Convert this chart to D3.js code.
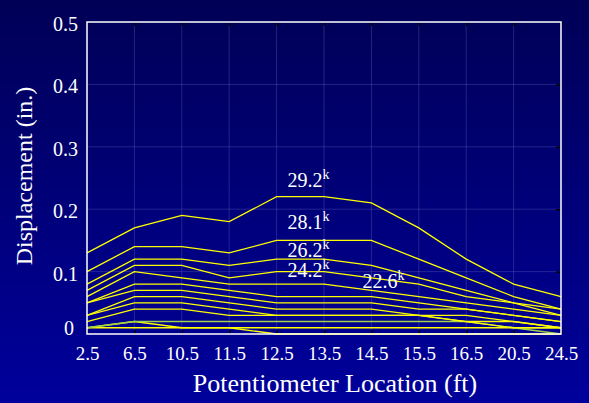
<!DOCTYPE html>
<html>
<head>
<meta charset="utf-8">
<script src="https://cdn.jsdelivr.net/npm/d3@7"></script>
<style>
  html, body { margin: 0; padding: 0; background: #000070; }
  svg { display: block; }
  svg text { font-family: "Liberation Serif", Tinos, "Times New Roman", Times, "DejaVu Serif", serif; fill: #ffffff; }
</style>
</head>
<body>
<div id="chart"></div>
<script>
// potentiometer locations (ft)
var locations = ["2.5", "6.5", "10.5", "11.5", "12.5", "13.5", "14.5", "15.5", "16.5", "20.5", "24.5"];
var yTicks = [0, 0.1, 0.2, 0.3, 0.4, 0.5];

// displacement (in.) for each load step
var load292 = [0.13, 0.17, 0.19, 0.18, 0.22, 0.22, 0.21, 0.17, 0.12, 0.08, 0.06];
var load281 = [0.10, 0.14, 0.14, 0.13, 0.15, 0.15, 0.15, 0.12, 0.09, 0.06, 0.04];
var load262 = [0.08, 0.12, 0.12, 0.11, 0.12, 0.12, 0.11, 0.09, 0.07, 0.05, 0.04];
var load242 = [0.07, 0.11, 0.11, 0.09, 0.10, 0.10, 0.09, 0.08, 0.06, 0.05, 0.03];
var load226 = [0.06, 0.10, 0.09, 0.08, 0.08, 0.08, 0.07, 0.06, 0.05, 0.04, 0.03];
var loadF = [0.05, 0.08, 0.08, 0.07, 0.06, 0.06, 0.06, 0.05, 0.04, 0.03, 0.02];
var loadG = [0.05, 0.07, 0.07, 0.06, 0.05, 0.05, 0.05, 0.04, 0.04, 0.03, 0.02];
var loadH = [0.03, 0.06, 0.06, 0.05, 0.04, 0.04, 0.04, 0.03, 0.03, 0.02, 0.01];
var loadI = [0.03, 0.05, 0.05, 0.04, 0.03, 0.03, 0.03, 0.03, 0.02, 0.02, 0.01];
var loadJ = [0.02, 0.04, 0.04, 0.03, 0.03, 0.03, 0.03, 0.03, 0.02, 0.01, 0.01];
var loadK = [0.01, 0.02, 0.02, 0.02, 0.02, 0.02, 0.02, 0.02, 0.02, 0.01, 0.00];
var loadL = [0.01, 0.01, 0.01, 0.01, 0.01, 0.01, 0.01, 0.01, 0.01, 0.01, 0.01];
var loadM = [0.01, 0.02, 0.01, 0.01, 0.00, 0.00, 0.00, 0.00, 0.00, 0.00, 0.00];

var allLoads = [loadM, loadL, loadK, loadJ, loadI, loadH, loadG, loadF, load226, load242, load262, load281, load292];

// curve labels (kips) placed near their curve
var labelText = ["29.2", "28.1", "26.2", "24.2", "22.6"];
var labelAt = ["12.5", "12.5", "12.5", "12.5", "14.5"];
var labelVal = [0.236, 0.168, 0.123, 0.091, 0.074];

var svgWidth = 589;
var svgHeight = 403;

var margin = { top: 22, right: 28, bottom: 69, left: 87 };
var width = svgWidth - margin.left - margin.right;
var height = svgHeight - margin.top - margin.bottom;

var serif = "'Liberation Serif', Tinos, 'Times New Roman', Times, 'DejaVu Serif', serif";

var svg = d3.select("#chart")
  .append("svg")
  .attr("width", svgWidth)
  .attr("height", svgHeight)
  .attr("font-family", serif);

// background gradient
var grad = svg.append("defs").append("linearGradient")
  .attr("id", "bg")
  .attr("x1", 0).attr("y1", 0).attr("x2", 0).attr("y2", 1);
grad.append("stop").attr("offset", "0%").attr("stop-color", "#000056");
grad.append("stop").attr("offset", "100%").attr("stop-color", "#00009c");

svg.append("rect")
  .attr("width", svgWidth)
  .attr("height", svgHeight)
  .attr("fill", "url(#bg)");

var chartGroup = svg.append("g")
  .attr("transform", `translate(${margin.left}, ${margin.top})`);

var x = d3.scalePoint()
  .domain(locations)
  .range([0, width])
  .padding(0);

var y = d3.scaleLinear()
  .domain([0, 0.5])
  .range([height, 0]);

// grid lines
chartGroup.append("g")
  .selectAll("line")
  .data(locations.slice(1, -1))
  .enter()
  .append("line")
  .attr("x1", d => x(d)).attr("x2", d => x(d))
  .attr("y1", 0).attr("y2", height)
  .attr("stroke", "#5a5ab4")
  .attr("stroke-opacity", 0.4)
  .attr("stroke-width", 1);

chartGroup.append("g")
  .selectAll("line")
  .data(yTicks.slice(1, -1))
  .enter()
  .append("line")
  .attr("x1", 0).attr("x2", width)
  .attr("y1", d => y(d)).attr("y2", d => y(d))
  .attr("stroke", "#5a5ab4")
  .attr("stroke-opacity", 0.4)
  .attr("stroke-width", 1);

// small dark tick marks inside the frame
var tickTop = d3.axisBottom(x).tickSize(4).tickFormat("");
var tickBot = d3.axisTop(x).tickSize(4).tickFormat("");
var tickRight = d3.axisLeft(y).tickValues(yTicks.slice(1, -1)).tickSize(5).tickFormat("");

chartGroup.append("g").call(tickTop)
  .call(g => g.select(".domain").remove())
  .selectAll("line").attr("stroke", "#000000").attr("stroke-width", 1.5);
chartGroup.append("g").attr("transform", `translate(0, ${height})`).call(tickBot)
  .call(g => g.select(".domain").remove())
  .selectAll("line").attr("stroke", "#000000").attr("stroke-width", 1.5);
chartGroup.append("g").attr("transform", `translate(${width}, 0)`).call(tickRight)
  .call(g => g.select(".domain").remove())
  .selectAll("line").attr("stroke", "#000000").attr("stroke-width", 1.5);

// displacement lines
var line = d3.line()
  .x((d, i) => x(locations[i]))
  .y(d => y(d));

chartGroup.selectAll(".load")
  .data(allLoads)
  .enter()
  .append("path")
  .attr("class", "load")
  .attr("d", d => line(d))
  .attr("fill", "none")
  .attr("stroke", d => d === loadK ? "#9fd24a" : "#ffff00")
  .attr("stroke-width", 1.3);

// frame
chartGroup.append("rect")
  .attr("width", width)
  .attr("height", height)
  .attr("fill", "none")
  .attr("stroke", "#ffffff")
  .attr("stroke-width", 1.5);

// axis tick labels
var bottomAxis = d3.axisBottom(x).tickSize(0).tickPadding(13);
var leftAxis = d3.axisLeft(y).tickValues(yTicks).tickSize(0).tickPadding(9)
  .tickFormat(d => d === 0 ? "0" : d3.format(".1f")(d));

chartGroup.append("g")
  .attr("transform", `translate(0, ${height})`)
  .call(bottomAxis)
  .attr("font-family", serif)
  .call(g => g.select(".domain").remove())
  .selectAll("text")
  .attr("font-size", 19)
  .attr("fill", "#ffffff");

chartGroup.append("g")
  .call(leftAxis)
  .attr("font-family", serif)
  .call(g => g.select(".domain").remove())
  .selectAll("text")
  .attr("font-size", 20)
  .attr("fill", "#ffffff")
  .attr("dy", d => d === 0 ? "0" : "0.42em")
  .attr("dx", d => d === 0 ? "-4" : "0");

// curve labels
var labels = chartGroup.selectAll(".curveLabel")
  .data(labelText)
  .enter()
  .append("text")
  .attr("class", "curveLabel")
  .attr("x", (d, i) => x(labelAt[i]) + (labelAt[i] === "14.5" ? -9 : 11))
  .attr("y", (d, i) => y(labelVal[i]))
  .attr("font-size", 20);
labels.append("tspan").text(d => d);
labels.append("tspan").text("k").attr("font-size", 14).attr("dy", -8);

// axis titles
svg.append("text")
  .attr("x", 335)
  .attr("y", 392)
  .attr("text-anchor", "middle")
  .attr("font-size", 26)
  .text("Potentiometer Location (ft)");

svg.append("text")
  .attr("transform", "rotate(-90)")
  .attr("x", -176)
  .attr("y", 32)
  .attr("text-anchor", "middle")
  .attr("font-size", 24)
  .text("Displacement (in.)");
</script>
</body>
</html>
